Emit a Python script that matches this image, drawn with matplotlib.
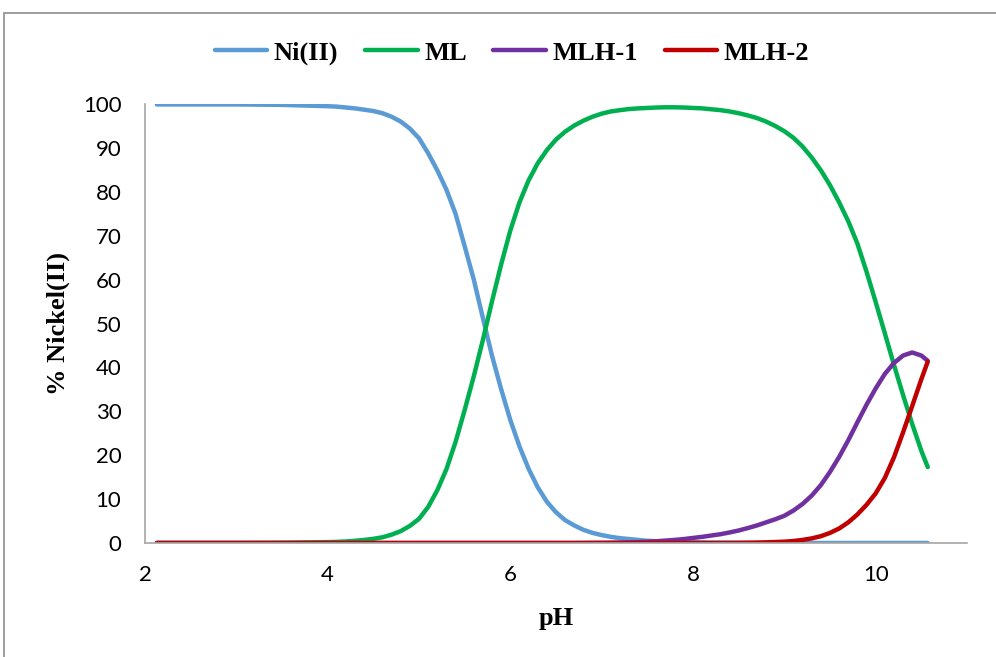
import matplotlib
matplotlib.use("Agg")
import matplotlib.pyplot as plt
from matplotlib.patches import Rectangle

# pH points
ph = [2.13, 2.5, 3.0, 3.5,
      4.0, 4.1, 4.2, 4.3, 4.4, 4.5, 4.6, 4.7, 4.8, 4.9,
      5.0, 5.1, 5.2, 5.3, 5.4, 5.5, 5.6, 5.7, 5.8, 5.9,
      6.0, 6.1, 6.2, 6.3, 6.4, 6.5, 6.6, 6.7, 6.8, 6.9,
      7.0, 7.1, 7.2, 7.3, 7.4, 7.5, 7.6, 7.7, 7.8, 7.9,
      8.0, 8.1, 8.2, 8.3, 8.4, 8.5, 8.6, 8.7, 8.8, 8.9,
      9.0, 9.1, 9.2, 9.3, 9.4, 9.5, 9.6, 9.7, 9.8, 9.9,
      10.0, 10.1, 10.2, 10.3, 10.4, 10.5,
      10.57]

ni = [99.9, 99.9, 99.9, 99.8,
      99.5, 99.4, 99.2, 99.0, 98.7, 98.4, 97.9, 97.1, 96.0, 94.4,
      92.2, 88.8, 84.9, 80.5, 75.0, 67.6, 60.0, 51.2, 42.6, 35.0,
      28.0, 22.0, 16.9, 12.7, 9.4, 7.0, 5.2, 4.0, 3.0, 2.3,
      1.8, 1.4, 1.1, 0.9, 0.7, 0.5, 0.4, 0.35, 0.3, 0.25,
      0.2, 0.15, 0.1, 0.1, 0.1, 0.05, 0.05, 0.0, 0.0, 0.0,
      0.0, 0.0, 0.0, 0.0, 0.0, 0.0, 0.0, 0.0, 0.0, 0.0,
      0.0, 0.0, 0.0, 0.0, 0.0, 0.0,
      0.0]

ml = [0.0, 0.0, 0.0, 0.05,
      0.2, 0.25, 0.35, 0.5, 0.7, 0.95, 1.3, 1.9, 2.7, 3.9,
      5.5, 8.2, 12.0, 16.8, 23.0, 30.3, 38.0, 46.3, 55.1, 63.5,
      71.2, 77.6, 82.6, 86.5, 89.5, 91.9, 93.7, 95.1, 96.2, 97.1,
      97.8, 98.3, 98.6, 98.85, 99.0, 99.1, 99.2, 99.25, 99.25, 99.2,
      99.1, 99.0, 98.8, 98.6, 98.3, 97.9, 97.4, 96.8, 96.0, 95.0,
      93.8, 92.3, 90.3, 87.8, 84.9, 81.5, 77.6, 73.3, 68.2, 61.8,
      54.9, 47.8, 40.6, 33.7, 27.1, 21.0,
      17.3]

mlh1 = [0.0, 0.0, 0.0, 0.0,
        0.0, 0.0, 0.0, 0.0, 0.0, 0.0, 0.0, 0.0, 0.0, 0.0,
        0.0, 0.0, 0.0, 0.0, 0.0, 0.0, 0.0, 0.0, 0.0, 0.0,
        0.0, 0.0, 0.0, 0.0, 0.0, 0.0, 0.0, 0.0, 0.02, 0.03,
        0.05, 0.07, 0.1, 0.15, 0.2, 0.3, 0.4, 0.55, 0.7, 0.9,
        1.15, 1.4, 1.7, 2.0, 2.4, 2.85, 3.4, 4.0, 4.7, 5.4,
        6.2, 7.4, 8.9, 10.8, 13.2, 16.2, 19.6, 23.4, 27.5, 31.5,
        35.2, 38.5, 41.0, 42.7, 43.4, 42.7,
        41.5]

mlh2 = [0.0, 0.0, 0.0, 0.0,
        0.0, 0.0, 0.0, 0.0, 0.0, 0.0, 0.0, 0.0, 0.0, 0.0,
        0.0, 0.0, 0.0, 0.0, 0.0, 0.0, 0.0, 0.0, 0.0, 0.0,
        0.0, 0.0, 0.0, 0.0, 0.0, 0.0, 0.0, 0.0, 0.0, 0.0,
        0.0, 0.0, 0.0, 0.0, 0.0, 0.0, 0.0, 0.0, 0.0, 0.0,
        0.0, 0.0, 0.0, 0.0, 0.0, 0.03, 0.05, 0.1, 0.15, 0.22,
        0.3, 0.45, 0.7, 1.05, 1.55, 2.3, 3.3, 4.7, 6.5, 8.7,
        11.3, 14.8, 19.5, 25.2, 31.2, 37.3,
        41.3]

series = [("Ni(II)", ni, "#5b9bd5"),
          ("ML", ml, "#00b050"),
          ("MLH-1", mlh1, "#7030a0"),
          ("MLH-2", mlh2, "#c00000")]

fig = plt.figure(figsize=(9.96, 6.57), dpi=100)
ax = fig.add_axes([145 / 996, 1 - 543 / 657, (967 - 145) / 996, (543 - 104) / 657])

for name, vals, col in series:
    ax.plot(ph, vals, color=col, lw=3.2, label=name,
            solid_capstyle="round", solid_joinstyle="round")

ax.set_xlim(2, 11)
ax.set_ylim(0, 100)
ax.set_xticks([2, 4, 6, 8, 10])
ax.set_yticks(range(0, 101, 10))

for s in ["top", "right"]:
    ax.spines[s].set_visible(False)
for s in ["left", "bottom"]:
    ax.spines[s].set_color("#a6a6a6")
    ax.spines[s].set_linewidth(1.2)

ax.tick_params(axis="both", length=0, labelsize=16, labelcolor="black")
ax.tick_params(axis="y", pad=17)
ax.tick_params(axis="x", pad=16)
for lab in ax.get_xticklabels() + ax.get_yticklabels():
    lab.set_family(["Lato", "DejaVu Sans"])

ax.set_xlabel("pH", family="Liberation Serif", weight="bold", fontsize=19)
ax.xaxis.set_label_coords(0.5, (543 - 618) / 439)
ax.xaxis.label.set_va("center")
ax.set_ylabel("% Nickel(II)", family="Liberation Serif", weight="bold", fontsize=19)
ax.yaxis.set_label_coords((58 - 145) / 822, 0.5)
ax.yaxis.label.set_va("center")

fig.legend(loc="center", bbox_to_anchor=(512 / 996, 1 - 53 / 657), ncol=4,
           frameon=False, handlelength=2.0, handletextpad=0.25, columnspacing=1.0,
           prop={"family": "Liberation Serif", "weight": "bold", "size": 19})

# outer chart-area border (cropped on right and bottom)
fig.patches.append(Rectangle((4 / 996, -0.1), 1.2, 1 - 13 / 657 + 0.1,
                             transform=fig.transFigure, fill=False,
                             edgecolor="#8c8c8c", lw=1.2))

fig.savefig("out.png", dpi=100)
